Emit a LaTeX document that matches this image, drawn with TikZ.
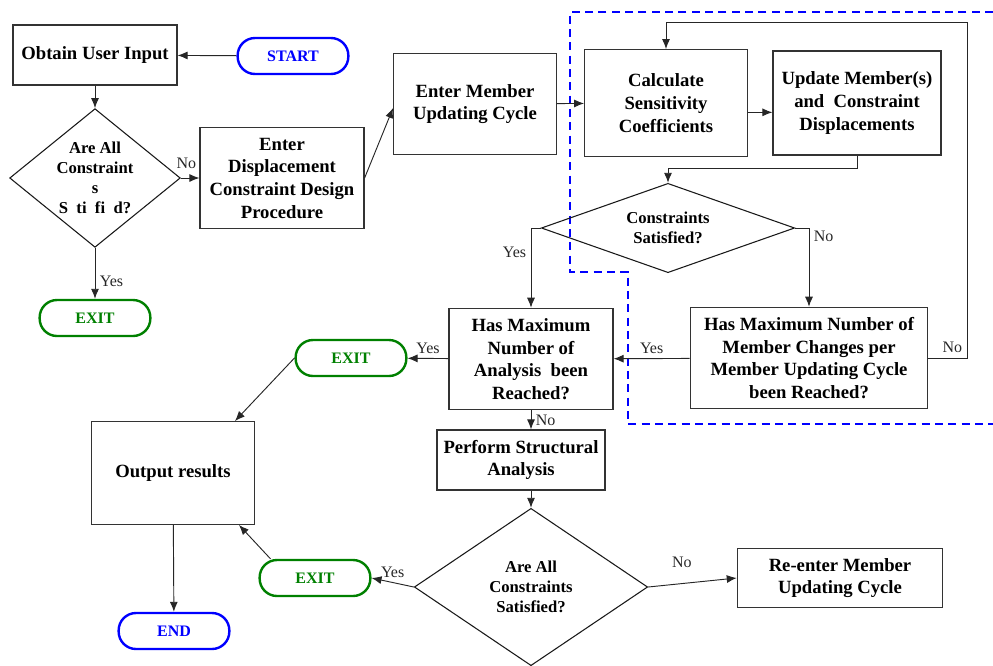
\documentclass[tikz,border=0pt]{standalone}
\usepackage{fontspec}
\setmainfont{Liberation Serif}
\usetikzlibrary{shapes.geometric, arrows.meta}

\begin{document}
\begin{tikzpicture}[
    x=0.75pt, y=-0.75pt,
    >={Latex[length=7.5pt, width=6pt]},
    every node/.style={font=\fontsize{14}{17}\selectfont\bfseries},
    box/.style={draw=black!80, line width=0.9pt, align=center, inner sep=2pt},
    decision/.style={diamond, draw=black!90, line width=0.8pt, align=center, inner sep=0pt, font=\fontsize{12.5}{15}\selectfont\bfseries},
    pill/.style={rounded corners=13pt, line width=1.8pt, minimum width=83pt, minimum height=27pt, font=\fontsize{12}{14}\selectfont\bfseries},
    startstop/.style={pill, draw=blue, text=blue},
    exitbox/.style={pill, draw=green!50!black, text=green!50!black},
    lbl/.style={font=\fontsize{12}{14}\selectfont},
    flow/.style={->, line width=0.7pt, black!85}
]
   \useasboundingbox (0,0) rectangle (993,665);

   % Member updating region
   \draw[blue, line width=1.5pt, dash pattern=on 6pt off 4pt]
      (993,12) -- (570,12) -- (570,272) -- (628,272) -- (628,424) -- (993,424);

   % Start and first check
   \node[box, minimum width=123pt, minimum height=45pt] (obtain) at (95,55) {Obtain User Input};
   \node[startstop] (start) at (293,56) {START};
   \node[decision, aspect=1.23, minimum width=128pt, minimum height=104pt] (check1) at (95,178) {Are All\\Constraint\\s\\S~~ti~~fi~~d?};
   \node[exitbox] (exit1) at (95,318) {EXIT};
   \node[box, minimum width=123pt, minimum height=76pt] (displ) at (282,178) {Enter\\Displacement\\Constraint Design\\Procedure};

   % Updating cycle
   \node[box, minimum width=122pt, minimum height=76pt] (member) at (475,104) {Enter Member\\Updating Cycle};
   \node[box, minimum width=122pt, minimum height=80pt] (calc) at (666,103) {Calculate\\Sensitivity\\Coefficients};
   \node[box, minimum width=126pt, minimum height=78pt] (update) at (857,103) {Update Member(s)\\and~ Constraint\\Displacements};
   \node[decision, aspect=2.8, minimum width=190pt, minimum height=67pt] (check2) at (668,228) {Constraints\\Satisfied?};
   \node[box, minimum width=123pt, minimum height=76pt] (maxana) at (531,359) {Has Maximum\\Number of\\Analysis~ been\\Reached?};
   \node[box, minimum width=178pt, minimum height=76pt] (maxmem) at (809,358) {Has Maximum Number of\\Member Changes per\\Member Updating Cycle\\been Reached?};
   \coordinate (loop) at (967,22);

   % Analysis and exits
   \node[exitbox] (exit2) at (351,358) {EXIT};
   \node[box, minimum width=122pt, minimum height=77pt] (output) at (173,473) {Output results};
   \node[startstop] (endn) at (174,631) {END};
   \node[box, minimum width=126pt, minimum height=45pt] (perform) at (521,460) {Perform Structural\\Analysis};
   \node[decision, aspect=1.48, minimum width=175pt, minimum height=118pt] (check3) at (531,587) {Are All\\Constraints\\Satisfied?};
   \node[exitbox] (exit3) at (315,578) {EXIT};
   \node[box, minimum width=154pt, minimum height=44pt] (reenter) at (840,578) {Re-enter Member\\Updating Cycle};

   % Connectors
   \path[flow]
   (start) edge (obtain)
   (obtain) edge (check1)
   (check1) edge node[lbl, above=3pt, pos=0.3] (no1) {No} (displ)
   (check1) edge node[lbl, right, pos=0.65] (yes1) {Yes} (exit1)
   (displ.east) edge ([yshift=-3pt]member.west)
   (member) edge (calc)
   ([yshift=-7pt]calc.east) edge ([yshift=-7pt]calc.east -| update.west)
   (maxmem) edge node[lbl, above] (yes3) {Yes} (maxana)
   (maxana) edge node[lbl, above] (yes4) {Yes} (exit2)
   (exit2.west) edge ([xshift=-15pt]output.north east)
   (output) edge (endn)
   (maxana.south) edge node[lbl, right] (no4) {No} (maxana.south |- perform.north)
   (perform.south -| check3.north) edge (check3.north)
   ([xshift=9pt]exit3.north west) edge ([xshift=-12pt]output.south east)
   (check3.west) edge node[lbl, above] (yes5) {Yes} (exit3.east)
   (check3.east) edge node[lbl, above=8pt, pos=0.38] (no5) {No} (reenter.west);

   \draw[flow] (update.south) -- ++(0,13) -| (check2.north);
   \draw[flow] (check2.west) -| node[lbl, left, pos=0.65] (yes2) {Yes} (maxana.north);
   \draw[flow] (check2.east) -| node[lbl, right, pos=0.55] (no2) {No} (maxmem.north);
   \draw[flow] (maxmem.east) -| node[lbl, above left, pos=0.5] (no3) {No} (loop) -| (calc.north);
\end{tikzpicture}
\end{document}
